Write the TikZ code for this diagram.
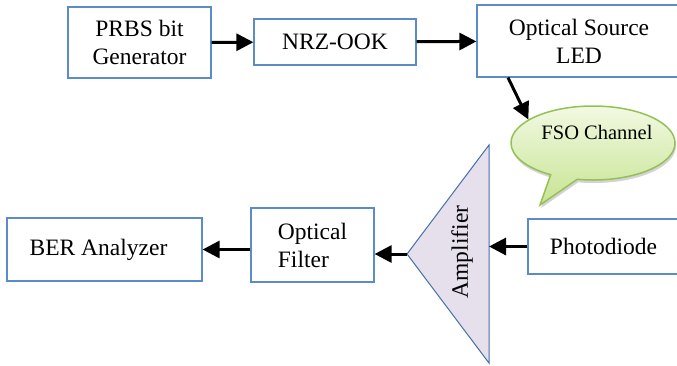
\documentclass[tikz,border=0pt]{standalone}
\usepackage{fontspec}
\setmainfont{Liberation Serif}
\usetikzlibrary{arrows.meta}
\usetikzlibrary{calc}
\usetikzlibrary{shapes.callouts}
\usetikzlibrary{shadows}

\definecolor{boxblue}{RGB}{91,140,200}
\definecolor{ampfill}{RGB}{229,224,236}
\definecolor{ampline}{RGB}{70,110,170}
\definecolor{bubbleline}{RGB}{150,192,85}
\definecolor{bubbletop}{RGB}{242,249,226}
\definecolor{bubblebot}{RGB}{198,228,146}

\begin{document}
\begin{tikzpicture}[x=1pt, y=-1pt,
    block/.style={draw=boxblue, line width=1.2pt, fill=white, inner sep=0pt,
      align=center, font=\fontsize{23.5}{28}\selectfont},
    flow/.style={line width=3pt, -{Triangle[length=17pt,width=17pt]}}]
  \useasboundingbox (0,0) rectangle (677,365);

  \node[block, minimum width=143, minimum height=71] (prbs) at (139.5,42.5) {PRBS bit\\Generator};
  \node[block, minimum width=162, minimum height=46] (nrz) at (335,42) {NRZ-OOK};
  \node[block, minimum width=204, minimum height=72] (led) at (579,41) {Optical Source\\LED};
  \path[flow] (prbs) edge (nrz);
  \path[flow] (nrz) edge (led);

  \node[ellipse callout, callout absolute pointer={(540,205)}, callout pointer arc=20,
    draw=bubbleline, line width=1.5pt, top color=bubbletop, bottom color=bubblebot,
    drop shadow={shadow xshift=1pt, shadow yshift=-3pt, opacity=0.35},
    minimum width=164, minimum height=74] (fso) at (593,143) {};
  \node[font=\fontsize{20.5}{24}\selectfont] (fsolabel) at (597,132) {FSO Channel};
  \draw[flow] ([xshift=-71]led.south) -- (fso.160);

  \node[block, minimum width=151, minimum height=55] (pd) at (603.5,246.5) {Photodiode};

  \coordinate (amptop) at (489,145);
  \coordinate (ampbot) at (489,363);
  \coordinate (ampapex) at (407,254);
  \draw[draw=ampline, line width=1pt, fill=ampfill] (amptop) -- (ampbot) -- (ampapex) -- cycle;
  \node[rotate=90, font=\fontsize{23.5}{28}\selectfont] (amp) at (462,252) {Amplifier};
  \draw[flow] (pd.west) -- (pd.west -| amptop);

  \node[block, minimum width=123, minimum height=74, align=left] (filter) at (312.5,245) {Optical\\Filter};
  \draw[flow] (ampapex) -- (ampapex -| filter.east);

  \node[block, minimum width=195, minimum height=63] (ber) at (104.5,249.5) {BER Analyzer\hspace{12pt}};
  \draw[flow] (filter.west |- ber.east) -- (ber.east);
\end{tikzpicture}
\end{document}
